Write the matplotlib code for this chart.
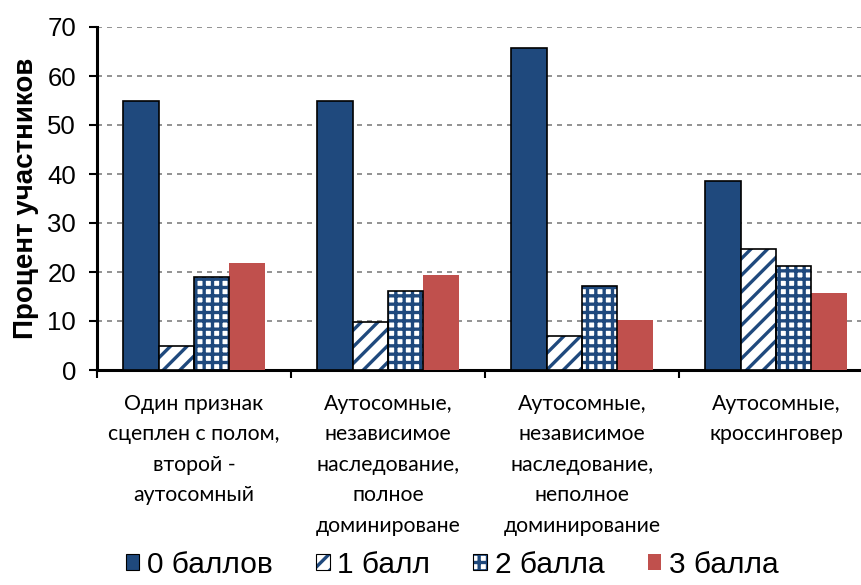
import numpy as np
import matplotlib.pyplot as plt
from matplotlib.patches import Patch
from matplotlib.legend_handler import HandlerTuple

plt.rcParams['font.family'] = ['Liberation Sans', 'DejaVu Sans']
plt.rcParams['hatch.linewidth'] = 2.4

# Доля участников по баллам для каждой задачи
categories = ['Один признак\nсцеплен с полом,\nвторой -\nаутосомный',
              'Аутосомные,\nнезависимое\nнаследование,\nполное\nдоминироване',
              'Аутосомные,\nнезависимое\nнаследование,\nнеполное\nдоминирование',
              'Аутосомные,\nкроссинговер']
score0 = [55.0, 55.0, 65.7, 38.6]
score1 = [4.8, 9.7, 7.0, 24.6]
score2 = [18.9, 16.2, 17.2, 21.3]
score3 = [21.8, 19.4, 10.3, 15.7]
series_labels = ['0 баллов', '1 балл', '2 балла', '3 балла']

blue = '#1f497d'
red = '#c0504d'

fig = plt.figure(figsize=(8.61, 5.85), dpi=100)
ax = fig.add_axes([97 / 861, 215 / 585, 776 / 861, 343 / 585])

x = np.arange(len(categories))
w = 0.182
offs = np.array([-1.5, -0.5, 0.5, 1.5]) * w

ax.bar(x + offs[0], score0, w, color=blue, edgecolor='black', linewidth=1.2, zorder=3)
# штриховка синим, контур чёрным
ax.bar(x + offs[1], score1, w, color='white', edgecolor=blue, hatch='//', linewidth=0, zorder=3)
ax.bar(x + offs[1], score1, w, fill=False, edgecolor='black', linewidth=1.2, zorder=4)
ax.bar(x + offs[2], score2, w, color='white', edgecolor=blue, hatch='++', linewidth=0, zorder=3)
ax.bar(x + offs[2], score2, w, fill=False, edgecolor='black', linewidth=1.2, zorder=4)
ax.bar(x + offs[3], score3, w, color=red, edgecolor='none', zorder=3)

ax.set_xlim(-0.5, 3.5)
ax.set_ylim(0, 70)
ax.set_yticks(range(0, 71, 10))
ax.yaxis.grid(True, linestyle=(0, (3, 3)), color='#808080', linewidth=1.2, zorder=0)
ax.tick_params(axis='y', labelsize=18.5, length=6, width=1.5, direction='out', pad=9)
ax.set_xticks(np.arange(-0.5, 3.6, 1))
ax.set_xticklabels([])
ax.tick_params(axis='x', length=6, width=1.5, direction='out')
for xi, lab in zip(x, categories):
    ax.text(xi, -4.8, lab, ha='center', va='top', fontsize=15.3, family=['Lato', 'DejaVu Sans'],
            linespacing=1.66, transform=ax.transData)

for s in ['top', 'right']:
    ax.spines[s].set_visible(False)
ax.spines['left'].set_linewidth(2.2)
ax.spines['bottom'].set_linewidth(2.2)

ax.set_ylabel('Процент участников', fontsize=20, fontweight='bold')
ax.yaxis.set_label_coords(-58 / 776, 0.5)

handles = [
    Patch(facecolor=blue, edgecolor='black', linewidth=0.8),
    (Patch(facecolor='white', edgecolor=blue, hatch='//', linewidth=0),
     Patch(fill=False, edgecolor='black', linewidth=0.8)),
    (Patch(facecolor='white', edgecolor=blue, hatch='++', linewidth=0),
     Patch(fill=False, edgecolor='black', linewidth=0.8)),
    Patch(facecolor=red, edgecolor='none'),
]
fig.legend(handles, series_labels, loc='center', bbox_to_anchor=(452 / 861, 1 - 565 / 585),
           ncol=4, frameon=False, fontsize=21.5, handlelength=0.46, handleheight=0.46,
           handletextpad=0.25, columnspacing=1.45, borderpad=0.2,
           handler_map={tuple: HandlerTuple(ndivide=1, pad=0)})

fig.savefig('out.png', dpi=100)
